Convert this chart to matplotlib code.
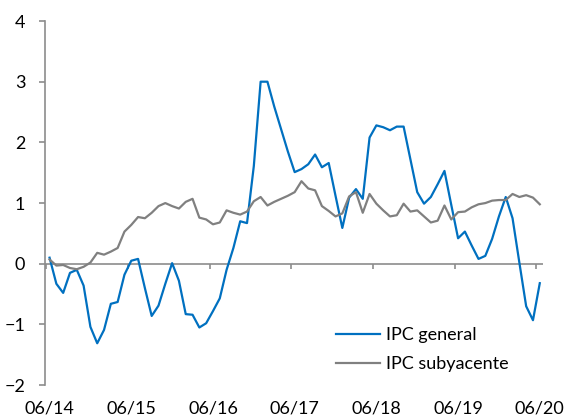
import numpy as np
import matplotlib.pyplot as plt

plt.rcParams['font.family'] = ['Lato', 'DejaVu Sans']

# monthly data, 06/14 .. 06/20
ipc_general = [0.10, -0.33, -0.48, -0.15, -0.10, -0.36, -1.04, -1.31, -1.09, -0.66,
               -0.63, -0.18, 0.05, 0.08, -0.40, -0.86, -0.69, -0.33, 0.01, -0.28,
               -0.83, -0.84, -1.05, -0.98, -0.78, -0.57, -0.10, 0.26, 0.70, 0.67,
               1.61, 3.00, 3.00, 2.59, 2.22, 1.85, 1.51, 1.56, 1.64, 1.80,
               1.59, 1.66, 1.12, 0.59, 1.09, 1.23, 1.07, 2.08, 2.28, 2.25,
               2.20, 2.26, 2.26, 1.72, 1.18, 0.99, 1.10, 1.31, 1.53, 0.97,
               0.42, 0.53, 0.30, 0.08, 0.13, 0.41, 0.78, 1.10, 0.75, 0.02,
               -0.70, -0.93, -0.32]
ipc_subyacente = [0.07, -0.03, -0.02, -0.07, -0.09, -0.05, 0.02, 0.18, 0.15, 0.20,
                  0.26, 0.53, 0.64, 0.77, 0.75, 0.84, 0.95, 1.00, 0.95, 0.91,
                  1.02, 1.07, 0.76, 0.73, 0.65, 0.68, 0.88, 0.84, 0.81, 0.86,
                  1.03, 1.10, 0.96, 1.02, 1.07, 1.12, 1.18, 1.36, 1.24, 1.21,
                  0.95, 0.87, 0.78, 0.83, 1.11, 1.18, 0.84, 1.15, 0.99, 0.88,
                  0.78, 0.80, 0.99, 0.86, 0.88, 0.78, 0.68, 0.71, 0.96, 0.73,
                  0.85, 0.86, 0.93, 0.98, 1.00, 1.04, 1.05, 1.05, 1.15, 1.10,
                  1.13, 1.09, 0.98]
tick_labels = ['06/14', '06/15', '06/16', '06/17', '06/18', '06/19', '06/20']

x = np.arange(len(ipc_general))
label_pos = np.arange(len(tick_labels)) * 12
axis_grey = '#8c8c8c'

fig = plt.figure(figsize=(5.67, 4.2), dpi=100)
ax = fig.add_axes([0.079, 0.083, 0.879, 0.867])

ax.plot(x, ipc_general, color='#0070C0', lw=1.6, label='IPC general')
ax.plot(x, ipc_subyacente, color='#808080', lw=1.6, label='IPC subyacente')

ax.set_xlim(-0.7, 72.5)
ax.set_ylim(-2, 4)

# horizontal axis drawn at zero with small ticks between categories
ax.axhline(0, color=axis_grey, lw=1.2, zorder=0)
ax.vlines(label_pos - 0.5, -0.08, 0, color=axis_grey, lw=1.2, zorder=0)

for s in ['top', 'right', 'bottom']:
    ax.spines[s].set_visible(False)
ax.spines['left'].set_color(axis_grey)
ax.spines['left'].set_linewidth(1.2)

ax.set_yticks(range(-2, 5))
ax.tick_params(axis='y', direction='out', length=4, width=1.2, color=axis_grey,
               pad=10, labelsize=13)
ax.set_xticks(label_pos)
ax.set_xticklabels(tick_labels)
ax.tick_params(axis='x', length=0, pad=11, labelsize=13)

ax.legend(loc='upper left', bbox_to_anchor=(0.585, 0.16), frameon=False,
          fontsize=13, handlelength=2.4, handletextpad=0.35,
          labelspacing=0.75, borderpad=0, borderaxespad=0)

fig.savefig('out.png', dpi=100)
